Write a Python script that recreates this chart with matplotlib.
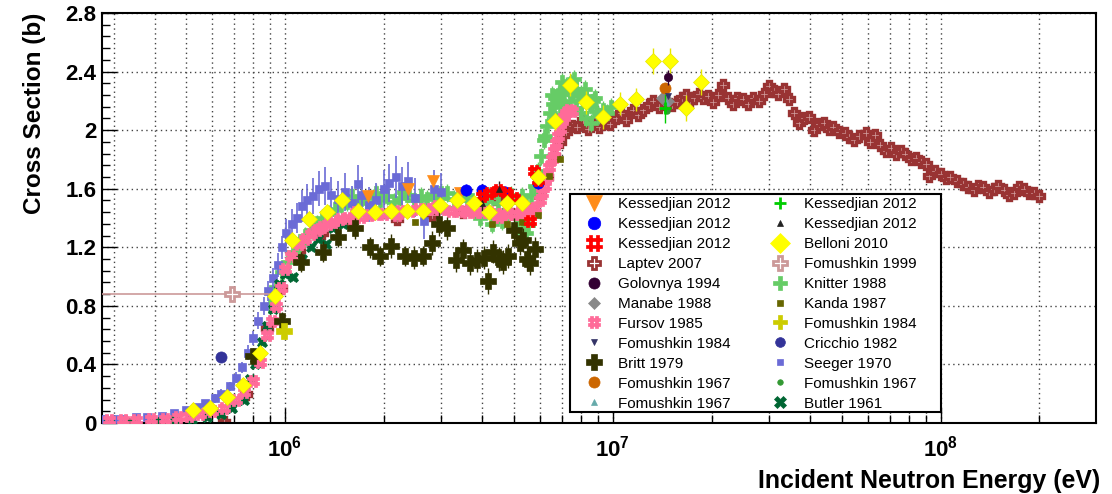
import numpy as np
import matplotlib.pyplot as plt
from matplotlib.path import Path
from matplotlib.lines import Line2D
from matplotlib.patches import Rectangle
from matplotlib.ticker import MultipleLocator, LogLocator, NullFormatter

plt.rcParams['font.family'] = ['Liberation Sans', 'DejaVu Sans']
plt.rcParams['mathtext.fontset'] = 'custom'
plt.rcParams['mathtext.bf'] = 'Liberation Sans:bold'
plt.rcParams['mathtext.rm'] = 'Liberation Sans'

# %% data (energy in eV, cross section in b)

kess_or_e = [1.79e6, 2.38e6, 2.83e6, 3.42e6]
kess_or_y = [1.55, 1.60, 1.65, 1.57]

kess_bl_e = [3.57e6, 4.0e6, 4.68e6, 5.93e6]
kess_bl_y = [1.59, 1.59, 1.58, 1.64]

kess_rd_e = [4.0e6, 4.2e6, 4.45e6, 4.75e6, 5.0e6, 5.6e6, 5.75e6, 5.9e6]
kess_rd_y = [1.55, 1.57, 1.59, 1.57, 1.54, 1.38, 1.72, 1.66]

kess_gr_e = [1.44e7]
kess_gr_y = [2.15]

kess_bk_e = [4.0e6, 4.5e6]
kess_bk_y = [1.50, 1.60]

laptev_e = [6.5e5, 7.6e5, 8.8e5, 9.7e5, 1.1e6, 1.3e6, 1.6e6, 2.2e6, 2.8e6, 3.5e6,
            4.0e6, 4.4e6, 4.8e6, 5.2e6, 5.6e6, 6.0e6, 6.3e6, 6.6e6, 6.9e6, 7.2e6,
            7.5e6, 7.8e6, 8.1e6, 8.4e6, 8.8e6, 9.1e6, 9.4e6, 9.8e6, 1.02e7, 1.06e7,
            1.1e7, 1.15e7, 1.19e7, 1.24e7, 1.29e7, 1.33e7, 1.38e7, 1.45e7, 1.52e7, 1.57e7,
            1.62e7, 1.67e7, 1.72e7, 1.77e7, 1.83e7, 1.89e7, 1.95e7, 2.02e7, 2.09e7, 2.17e7,
            2.24e7, 2.32e7, 2.4e7, 2.5e7, 2.59e7, 2.68e7, 2.8e7, 2.9e7, 3.0e7, 3.1e7,
            3.2e7, 3.32e7, 3.45e7, 3.57e7, 3.7e7, 3.84e7, 3.98e7, 4.1e7, 4.25e7, 4.4e7,
            4.55e7, 4.7e7, 4.9e7, 5.1e7, 5.27e7, 5.45e7, 5.65e7, 5.9e7, 6.1e7, 6.3e7,
            6.55e7, 6.8e7, 7.05e7, 7.3e7, 7.55e7, 7.8e7, 8.1e7, 8.4e7, 8.7e7, 9.0e7,
            9.2e7, 9.6e7, 1.0e8, 1.04e8, 1.07e8, 1.12e8, 1.17e8, 1.21e8, 1.26e8, 1.3e8,
            1.35e8, 1.4e8, 1.45e8, 1.5e8, 1.56e8, 1.62e8, 1.67e8, 1.73e8, 1.79e8, 1.86e8,
            1.93e8, 2.0e8]
laptev_y = [0.01, 0.20, 0.65, 0.92, 1.18, 1.30, 1.38, 1.39, 1.42, 1.44,
            1.50, 1.53, 1.45, 1.44, 1.46, 1.55, 1.68, 1.82, 1.92, 1.99,
            2.03, 2.02, 2.07, 2.01, 2.04, 2.02, 2.05, 2.04, 2.08, 2.12,
            2.07, 2.14, 2.10, 2.14, 2.17, 2.20, 2.16, 2.20, 2.17, 2.19,
            2.22, 2.24, 2.20, 2.22, 2.25, 2.22, 2.23, 2.19, 2.24, 2.31,
            2.22, 2.18, 2.22, 2.21, 2.18, 2.22, 2.20, 2.25, 2.30, 2.27,
            2.25, 2.28, 2.21, 2.12, 2.05, 2.08, 2.09, 2.00, 2.04, 2.05,
            2.01, 2.02, 1.99, 1.98, 1.95, 1.93, 1.96, 1.98, 1.92, 1.97,
            1.90, 1.86, 1.88, 1.84, 1.86, 1.84, 1.80, 1.81, 1.78, 1.77,
            1.69, 1.72, 1.70, 1.67, 1.68, 1.65, 1.63, 1.61, 1.59, 1.62,
            1.61, 1.58, 1.60, 1.62, 1.59, 1.56, 1.57, 1.61, 1.60, 1.57,
            1.57, 1.55]

golovnya_e = [1.47e7]
golovnya_y = [2.36]

manabe_e = [1.41e7, 1.47e7]
manabe_y = [2.22, 2.20]

fursov_e = [2.9e5, 3.2e5, 3.5e5, 3.9e5, 4.3e5, 4.7e5, 5.1e5, 5.5e5, 6.0e5, 6.5e5,
            7.1e5, 7.5e5, 8.0e5, 8.4e5, 8.8e5, 9.1e5, 9.4e5, 9.7e5, 1.0e6, 1.04e6,
            1.1e6, 1.15e6, 1.2e6, 1.25e6, 1.3e6, 1.35e6, 1.4e6, 1.47e6, 1.55e6, 1.62e6,
            1.7e6, 1.8e6, 1.9e6, 2.0e6, 2.1e6, 2.25e6, 2.4e6, 2.55e6, 2.7e6, 2.85e6,
            3.0e6, 3.2e6, 3.4e6, 3.6e6, 3.8e6, 4.0e6, 4.2e6, 4.4e6, 4.6e6, 4.8e6,
            5.0e6, 5.2e6, 5.4e6, 5.6e6, 5.8e6, 6.0e6, 6.1e6, 6.2e6, 6.3e6, 6.4e6,
            6.5e6, 6.6e6, 6.7e6, 6.8e6, 6.9e6, 7.0e6, 7.1e6, 7.2e6, 7.35e6, 7.5e6,
            1.65e6, 2.2e6, 2.9e6, 3.7e6, 4.5e6, 5.3e6]
fursov_y = [0.02, 0.02, 0.02, 0.03, 0.03, 0.04, 0.05, 0.06, 0.08, 0.10,
            0.16, 0.21, 0.29, 0.42, 0.60, 0.70, 0.80, 0.92, 1.05, 1.14,
            1.22, 1.26, 1.29, 1.32, 1.34, 1.36, 1.37, 1.39, 1.40, 1.41,
            1.41, 1.42, 1.43, 1.43, 1.44, 1.45, 1.45, 1.46, 1.46, 1.46,
            1.46, 1.45, 1.45, 1.44, 1.44, 1.44, 1.44, 1.43, 1.43, 1.43,
            1.43, 1.43, 1.44, 1.45, 1.47, 1.52, 1.57, 1.62, 1.68, 1.75,
            1.80, 1.86, 1.91, 1.96, 2.01, 2.06, 2.09, 2.12, 2.14, 2.13,
            1.44, 1.42, 1.48, 1.47, 1.41, 1.46]

fom84_bl_e = [1.47e7]
fom84_bl_y = [2.23]

britt_e = [8.0e5, 9.8e5, 1.12e6, 1.31e6, 1.45e6, 1.63e6, 1.82e6, 1.95e6, 2.11e6, 2.33e6,
           2.48e6, 2.64e6, 2.8e6, 2.94e6, 3.13e6, 3.32e6, 3.48e6, 3.66e6, 3.84e6, 4.05e6,
           4.15e6, 4.32e6, 4.48e6, 4.63e6, 4.8e6, 5.0e6, 5.2e6, 5.33e6, 5.46e6, 5.6e6,
           5.8e6]
britt_y = [0.46, 0.70, 1.10, 1.17, 1.27, 1.33, 1.20, 1.14, 1.21, 1.14,
           1.13, 1.14, 1.23, 1.36, 1.33, 1.11, 1.18, 1.09, 1.11, 1.13,
           0.97, 1.17, 1.12, 1.10, 1.14, 1.32, 1.23, 1.25, 1.12, 1.09,
           1.19]
britt_err = [0.05, 0.06, 0.07, 0.07, 0.07, 0.07, 0.07, 0.07, 0.08, 0.07,
             0.08, 0.07, 0.08, 0.08, 0.08, 0.08, 0.08, 0.08, 0.08, 0.08,
             0.09, 0.08, 0.08, 0.08, 0.08, 0.08, 0.08, 0.08, 0.08, 0.08,
             0.08]

fom67_or_e = [1.44e7]
fom67_or_y = [2.29]

fom67_tl_e = [1.45e7]
fom67_tl_y = [2.19]

belloni_e = [5.25e5, 5.9e5, 6.64e5, 7.45e5, 8.4e5, 9.3e5, 1.05e6, 1.18e6, 1.34e6, 1.49e6,
             1.67e6, 1.88e6, 2.11e6, 2.35e6, 2.64e6, 2.97e6, 3.34e6, 3.76e6, 4.2e6, 4.74e6,
             5.27e6, 5.93e6, 6.64e6, 7.4e6, 8.3e6, 9.35e6, 1.05e7, 1.18e7, 1.33e7, 1.49e7,
             1.67e7, 1.86e7]
belloni_y = [0.09, 0.10, 0.18, 0.26, 0.48, 0.87, 1.25, 1.39, 1.44, 1.52,
             1.45, 1.44, 1.45, 1.45, 1.45, 1.49, 1.52, 1.50, 1.44, 1.50,
             1.50, 1.68, 2.06, 2.31, 2.19, 2.09, 2.18, 2.21, 2.47, 2.47,
             2.15, 2.33]
belloni_err = [0.02, 0.02, 0.02, 0.03, 0.03, 0.04, 0.04, 0.04, 0.04, 0.04,
               0.04, 0.04, 0.04, 0.04, 0.04, 0.04, 0.04, 0.04, 0.04, 0.04,
               0.04, 0.05, 0.06, 0.08, 0.08, 0.08, 0.08, 0.08, 0.09, 0.09,
               0.09, 0.09]

fom99_e = [6.9e5]
fom99_y = [0.88]
fom99_xlo = [4.2e5]
fom99_xhi = [2.4e5]

knitter_e = [9.0e5, 9.4e5, 9.8e5, 1.02e6, 1.06e6, 1.1e6, 1.15e6, 1.2e6, 1.25e6, 1.3e6,
             1.36e6, 1.42e6, 1.48e6, 1.55e6, 1.62e6, 1.7e6, 1.78e6, 1.86e6, 1.95e6, 2.05e6,
             2.15e6, 2.25e6, 2.36e6, 2.48e6, 2.6e6, 2.72e6, 2.85e6, 2.98e6, 3.12e6, 3.27e6,
             3.42e6, 3.58e6, 3.75e6, 3.92e6, 4.1e6, 4.28e6, 4.46e6, 4.65e6, 4.85e6, 5.05e6,
             5.25e6, 5.45e6, 5.62e6, 5.78e6, 5.92e6, 6.05e6, 6.18e6, 6.3e6, 6.42e6, 6.55e6,
             6.68e6, 6.8e6, 6.92e6, 7.05e6, 7.18e6, 7.3e6, 7.43e6, 7.56e6, 7.7e6, 7.85e6,
             8.0e6, 8.15e6, 8.3e6, 8.5e6, 8.7e6, 8.9e6, 9.1e6, 9.35e6, 9.6e6, 9.85e6,
             6.6e6, 6.9e6, 7.1e6, 7.4e6, 7.7e6, 8.0e6, 8.3e6, 8.6e6, 4.0e6, 4.6e6,
             5.1e6, 5.5e6, 3.3e6, 2.7e6, 1.6e6, 1.9e6, 2.3e6, 3.0e6, 3.6e6, 4.2e6,
             4.9e6, 5.3e6, 6.2e6, 6.5e6, 7.0e6, 7.6e6, 8.2e6, 8.8e6]
knitter_y = [0.80, 0.93, 1.03, 1.10, 1.17, 1.22, 1.28, 1.32, 1.36, 1.40,
             1.43, 1.46, 1.49, 1.51, 1.50, 1.53, 1.50, 1.54, 1.52, 1.55,
             1.51, 1.54, 1.56, 1.52, 1.55, 1.53, 1.56, 1.54, 1.57, 1.53,
             1.55, 1.52, 1.48, 1.40, 1.52, 1.36, 1.50, 1.42, 1.53, 1.33,
             1.52, 1.30, 1.56, 1.62, 1.72, 1.82, 1.93, 2.03, 2.12, 2.18,
             2.22, 2.24, 2.27, 2.25, 2.30, 2.28, 2.32, 2.26, 2.28, 2.24,
             2.25, 2.21, 2.23, 2.18, 2.20, 2.13, 2.10, 2.14, 2.12, 2.16,
             2.10, 2.16, 2.18, 2.20, 2.15, 2.12, 2.08, 2.05, 1.45, 1.38,
             1.40, 1.35, 1.47, 1.48, 1.55, 1.57, 1.58, 1.57, 1.56, 1.55,
             1.56, 1.55, 1.96, 2.24, 2.33, 2.35, 2.28, 2.22]

kanda_e = [2.5e6, 4.27e6, 4.74e6, 5.27e6, 5.9e6, 6.4e6, 6.9e6]
kanda_y = [1.37, 1.36, 1.36, 1.37, 1.42, 1.69, 1.80]

fom84_ye_e = [9.9e5]
fom84_ye_y = [0.63]

cricchio_e = [6.4e5]
cricchio_y = [0.45]

seeger_e = [2.8e5, 3.0e5, 3.2e5, 3.5e5, 3.8e5, 4.2e5, 4.6e5, 5.0e5, 5.4e5, 5.7e5,
            6.1e5, 6.4e5, 6.8e5, 7.1e5, 7.4e5, 7.7e5, 8.0e5, 8.3e5, 8.6e5, 8.9e5,
            9.2e5, 9.5e5, 9.8e5, 1.01e6, 1.05e6, 1.09e6, 1.13e6, 1.17e6, 1.22e6, 1.27e6,
            1.32e6, 1.38e6, 1.45e6, 1.52e6, 1.6e6, 1.67e6, 1.72e6, 1.8e6, 1.9e6, 2.0e6,
            2.08e6, 2.18e6, 2.28e6, 2.38e6, 2.5e6, 2.65e6, 2.85e6, 3.0e6]
seeger_y = [0.03, 0.03, 0.03, 0.04, 0.04, 0.05, 0.07, 0.09, 0.11, 0.14,
            0.17, 0.20, 0.25, 0.31, 0.38, 0.48, 0.58, 0.70, 0.80, 0.90,
            0.99, 1.08, 1.20, 1.30, 1.36, 1.40, 1.48, 1.52, 1.55, 1.60,
            1.62, 1.56, 1.53, 1.58, 1.50, 1.63, 1.56, 1.49, 1.52, 1.60,
            1.64, 1.68, 1.62, 1.65, 1.54, 1.38, 1.60, 1.58]
seeger_err = [0.01, 0.01, 0.01, 0.01, 0.01, 0.01, 0.02, 0.02, 0.02, 0.02,
              0.03, 0.03, 0.03, 0.04, 0.04, 0.05, 0.05, 0.06, 0.06, 0.07,
              0.07, 0.08, 0.08, 0.09, 0.10, 0.10, 0.11, 0.11, 0.12, 0.12,
              0.13, 0.12, 0.12, 0.13, 0.12, 0.13, 0.12, 0.12, 0.12, 0.13,
              0.13, 0.14, 0.13, 0.13, 0.13, 0.12, 0.13, 0.13]

fom67_gr_e = [1.46e7]
fom67_gr_y = [2.13]

butler_e = [2.9e5, 3.4e5, 4.0e5, 4.6e5, 5.2e5, 5.8e5, 6.4e5, 6.9e5, 7.5e5, 7.8e5,
            8.1e5, 8.5e5, 8.8e5, 9.2e5, 9.6e5, 1.0e6, 1.06e6, 1.13e6, 1.2e6, 1.26e6,
            1.33e6, 1.4e6, 1.5e6]
butler_y = [0.00, 0.01, 0.01, 0.02, 0.03, 0.04, 0.06, 0.10, 0.16, 0.30,
            0.40, 0.55, 0.66, 0.78, 0.95, 1.02, 1.00, 1.12, 1.20, 1.26,
            1.22, 1.33, 1.36]


# %% markers

def hash_marker(o=0.42, w=0.22):
    verts, codes = [], []
    for c in (-o, o):
        for rect in ([(c - w, -1), (c + w, -1), (c + w, 1), (c - w, 1), (c - w, -1)],
                     [(-1, c - w), (1, c - w), (1, c + w), (-1, c + w), (-1, c - w)]):
            verts += rect
            codes += [Path.MOVETO, Path.LINETO, Path.LINETO, Path.LINETO, Path.CLOSEPOLY]
    return Path(verts, codes)

HASH = hash_marker()


# %% plot

fig = plt.figure(figsize=(11.12, 4.94), dpi=100)
ax = fig.add_axes([0.0915, 0.1437, 0.8942, 0.830])

def draw(x, y, marker, color, ms, z, yerr=None, xerr=None, mec=None, mfc=None,
         mew=0.5, ecolor=None, elw=1.0):
    ax.errorbar(x, y, yerr=yerr, xerr=xerr, fmt='', marker=marker, ls='none',
                ms=ms, color=color,
                mec=mec if mec else color, mfc=mfc if mfc else color, mew=mew,
                ecolor=ecolor if ecolor else color, elinewidth=elw, capsize=0,
                zorder=z)

draw(laptev_e, laptev_y, 'P', '#993333', 6.5, 2, mfc='#d9aaaa', mew=2.4, yerr=0.02)
draw(knitter_e, knitter_y, 'P', '#66cc66', 10, 3, yerr=0.06)
draw(seeger_e, seeger_y, 's', '#6b6bd6', 5.5, 4, yerr=seeger_err, elw=1.2)
draw(butler_e, butler_y, 'X', '#006633', 7.5, 4.5)
draw(fursov_e, fursov_y, HASH, '#ff6b99', 8, 5, yerr=0.02)
draw(britt_e, britt_y, 'P', '#333300', 11, 5.5, yerr=britt_err)
draw(kanda_e, kanda_y, 's', '#666600', 5, 6)
draw(kess_or_e, kess_or_y, 'v', '#ff8c1a', 9, 7)
draw(kess_bl_e, kess_bl_y, 'o', '#0000ff', 8, 7, yerr=0.04)
draw(kess_rd_e, kess_rd_y, HASH, '#ff0000', 8, 7)
draw(kess_bk_e, kess_bk_y, '^', '#222222', 4, 7, yerr=0.05)
draw(belloni_e, belloni_y, 'D', '#ffff00', 8.5, 8, yerr=belloni_err, mec='#e6e600',
     ecolor='#e6e600')
draw(manabe_e, manabe_y, 'D', '#888888', 6, 8)
draw(fom67_tl_e, fom67_tl_y, '^', '#66aaaa', 5, 8)
draw(fom67_or_e, fom67_or_y, 'o', '#cc6600', 8, 8.2)
draw(golovnya_e, golovnya_y, 'o', '#330033', 6, 8.4, yerr=0.05)
draw(kess_gr_e, kess_gr_y, '+', '#00cc00', 8, 8.3, yerr=0.10, mew=2)
draw(fom67_gr_e, fom67_gr_y, 'o', '#339933', 4, 8.2)
draw(fom84_bl_e, fom84_bl_y, 'v', '#333366', 4, 8.3)
draw(fom84_ye_e, fom84_ye_y, 'P', '#cccc00', 11, 8)
draw(cricchio_e, cricchio_y, 'o', '#333399', 8, 8)
ax.errorbar(fom99_e, fom99_y, xerr=[fom99_xlo, fom99_xhi], fmt='', marker='P',
            ls='none', ms=10, color='#cc9999', mfc='white', mew=2,
            elinewidth=1.2, capsize=0, zorder=8)

# axes
ax.set_xscale('log')
ax.set_xlim(2.76e5, 2.98e8)
ax.set_ylim(0, 2.8)
ax.set_yticks(np.arange(0, 2.81, 0.4))
ax.set_yticklabels(['0', '0.4', '0.8', '1.2', '1.6', '2', '2.4', '2.8'])
ax.yaxis.set_minor_locator(MultipleLocator(0.08))
ax.set_xticks([1e6, 1e7, 1e8])
ax.set_xticklabels([r'$\mathbf{10^{6}}$', r'$\mathbf{10^{7}}$', r'$\mathbf{10^{8}}$'])
ax.xaxis.set_minor_locator(LogLocator(base=10, subs=np.arange(2, 10)))
ax.xaxis.set_minor_formatter(NullFormatter())

ax.tick_params(which='both', direction='in', top=False, right=False,
               labelsize=16, width=1)
ax.tick_params(which='major', length=11)
ax.tick_params(which='minor', length=6)
ax.tick_params(axis='x', pad=9)
ax.tick_params(axis='y', pad=4)
for lab in ax.get_yticklabels():
    lab.set_fontweight('bold')

ax.set_axisbelow(True)
ax.grid(which='both', axis='x', ls=(0, (1, 2.5)), color='#444444', lw=1)
ax.grid(which='major', axis='y', ls=(0, (1, 2.5)), color='#444444', lw=1)
for s in ax.spines.values():
    s.set_linewidth(1.5)

fig.text(35 / 1112, 1 - 13 / 494, 'Cross Section (b)', rotation=90,
         ha='center', va='top', fontsize=17.5, fontweight='bold')
fig.text(1100 / 1112, 1 - 488 / 494, 'Incident Neutron Energy (eV)',
         ha='right', va='baseline', fontsize=17.9, fontweight='bold')

# legend, two columns, with its own box
def h(marker, color, ms, mfc=None, mew=0.5):
    return Line2D([], [], ls='none', marker=marker, ms=ms, color=color,
                  mfc=mfc if mfc else color, mew=mew)

entries = [
    (h('v', '#ff8c1a', 11), 'Kessedjian 2012'),
    (h('o', '#0000ff', 9), 'Kessedjian 2012'),
    (h(HASH, '#ff0000', 11), 'Kessedjian 2012'),
    (h('P', '#993333', 8, mfc='white', mew=2), 'Laptev 2007'),
    (h('o', '#330033', 8), 'Golovnya 1994'),
    (h('D', '#888888', 6), 'Manabe 1988'),
    (h(HASH, '#ff6b99', 9), 'Fursov 1985'),
    (h('v', '#333366', 5), 'Fomushkin 1984'),
    (h('P', '#333300', 11), 'Britt 1979'),
    (h('o', '#cc6600', 8), 'Fomushkin 1967'),
    (h('^', '#66aaaa', 5), 'Fomushkin 1967'),
    (h('+', '#00cc00', 9, mew=2), 'Kessedjian 2012'),
    (h('^', '#222222', 5), 'Kessedjian 2012'),
    (h('D', '#ffff00', 10), 'Belloni 2010'),
    (h('P', '#cc9999', 10, mfc='white', mew=2), 'Fomushkin 1999'),
    (h('P', '#66cc66', 10), 'Knitter 1988'),
    (h('s', '#666600', 5), 'Kanda 1987'),
    (h('P', '#cccc00', 10), 'Fomushkin 1984'),
    (h('o', '#333399', 7), 'Cricchio 1982'),
    (h('s', '#6b6bd6', 5), 'Seeger 1970'),
    (h('o', '#339933', 4), 'Fomushkin 1967'),
    (h('X', '#006633', 9), 'Butler 1961'),
]

def ax_x(px):
    return (px - 101.7) / 994.3

def ax_y(py):
    return (423 - py) / 410

box = Rectangle((ax_x(570), ax_y(412)), ax_x(941) - ax_x(570), ax_y(194) - ax_y(412),
                transform=ax.transAxes, facecolor='white', edgecolor='black',
                lw=1.5, zorder=19)
ax.add_patch(box)
leg = ax.legend([e[0] for e in entries], [e[1] for e in entries], ncol=2,
                loc='upper left', bbox_to_anchor=(ax_x(574), ax_y(194)),
                borderaxespad=0, fontsize=11, frameon=False, borderpad=0.2,
                labelspacing=0.39, handlelength=2.2, handletextpad=0.5,
                columnspacing=2.1)
leg.set_zorder(20)

fig.savefig('out.png', dpi=100)
